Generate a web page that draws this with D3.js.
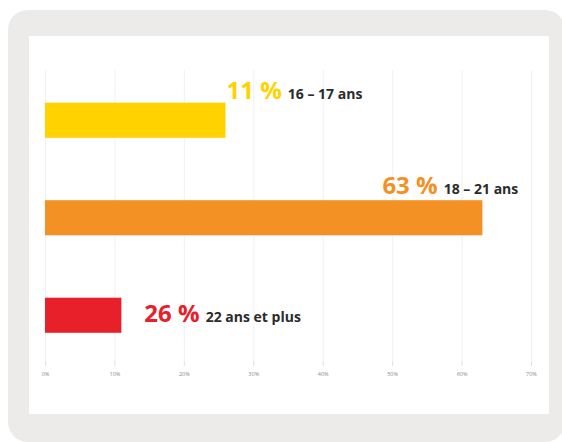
<!DOCTYPE html>
<html>
<head>
<meta charset="utf-8">
<script src="https://cdn.jsdelivr.net/npm/d3@7"></script>
<style>
  body { margin: 0; background: #fff; }
  svg { display: block; }
</style>
</head>
<body>
<div id="chart"></div>
<script>
(function() {
  var width = 562,
    height = 442;

  // data
  var groups = ["16 – 17 ans", "18 – 21 ans", "22 ans et plus"];
  var barValues = [26, 63, 11];          // bar lengths, in %
  var shownLabels = ["11 %", "63 %", "26 %"]; // printed percentages
  var colors = ["#FFD200", "#F39125", "#E8202A"];
  var tickValues = [0, 10, 20, 30, 40, 50, 60, 70];

  var root = d3.select("#chart")
    .append("svg")
    .attr("width", width)
    .attr("height", height);

  // grey card + white panel
  root.append("rect")
    .attr("x", 8).attr("y", 10)
    .attr("width", 557).attr("height", 432)
    .attr("rx", 20)
    .attr("fill", "#ECEBE9");

  root.append("rect")
    .attr("x", 29).attr("y", 36)
    .attr("width", 520).attr("height", 378)
    .attr("fill", "#fff");

  var svg = root.append("g");

  var x = d3.scaleLinear()
    .domain([0, 70])
    .range([45, 531]);

  var y = d3.scaleBand()
    .domain(groups)
    .range([71.5, 364])
    .paddingInner(0.64)
    .paddingOuter(0.32);

  // axis with faint gridlines
  var axis = d3.axisBottom(x)
    .tickValues(tickValues)
    .tickSize(-(364 - 70))
    .tickPadding(8)
    .tickFormat(function(d) { return d + "%"; });

  var gAxis = svg.append("g")
    .attr("transform", "translate(0,364)")
    .call(axis);

  gAxis.select(".domain").remove();
  gAxis.selectAll(".tick line")
    .attr("stroke", "#f1f1f1")
    .attr("stroke-width", 1);
  gAxis.selectAll(".tick")
    .append("line")
    .attr("y1", -3).attr("y2", 2)
    .attr("stroke", "#e2e2e2");
  gAxis.selectAll(".tick text")
    .attr("fill", "#8f8986")
    .attr("font-family", "Open Sans, sans-serif")
    .attr("font-size", 5.5);

  // bars
  svg.selectAll(".bar")
    .data(groups)
    .enter().append("rect")
    .attr("class", "bar")
    .attr("x", x(0))
    .attr("y", function(d) { return y(d); })
    .attr("width", function(d, i) { return x(barValues[i]) - x(0); })
    .attr("height", y.bandwidth())
    .attr("fill", function(d, i) { return colors[i]; });

  // where each label sits, relative to its bar end / bar top
  var labelLayout = [
    { dx: 1, dy: -4 },
    { dx: -100, dy: -6 },
    { dx: 23, dy: 24 }
  ];

  var labels = svg.selectAll(".label")
    .data(groups)
    .enter().append("g")
    .attr("class", "label")
    .attr("transform", function(d, i) {
      return "translate(" + (x(barValues[i]) + labelLayout[i].dx) + "," + (y(d) + labelLayout[i].dy) + ")";
    });

  labels.append("text")
    .attr("class", "pct")
    .attr("font-family", "Open Sans, sans-serif")
    .attr("font-weight", 700)
    .attr("font-size", 24)
    .attr("fill", function(d, i) { return colors[i]; })
    .text(function(d, i) { return shownLabels[i]; });

  var sub = labels.append("text")
    .attr("class", "sub")
    .attr("font-family", "Open Sans, sans-serif")
    .attr("font-weight", 700)
    .attr("font-size", 14)
    .attr("fill", "#2b2b2b")
    .text(function(d) { return d; });

  // place the age text once the font is really there
  function placeSub() {
    sub.attr("x", function() {
      return this.parentNode.querySelector(".pct").getBBox().width + 6;
    });
  }
  placeSub();
  if (document.fonts && document.fonts.ready) document.fonts.ready.then(placeSub);

})();
</script>
</body>
</html>
